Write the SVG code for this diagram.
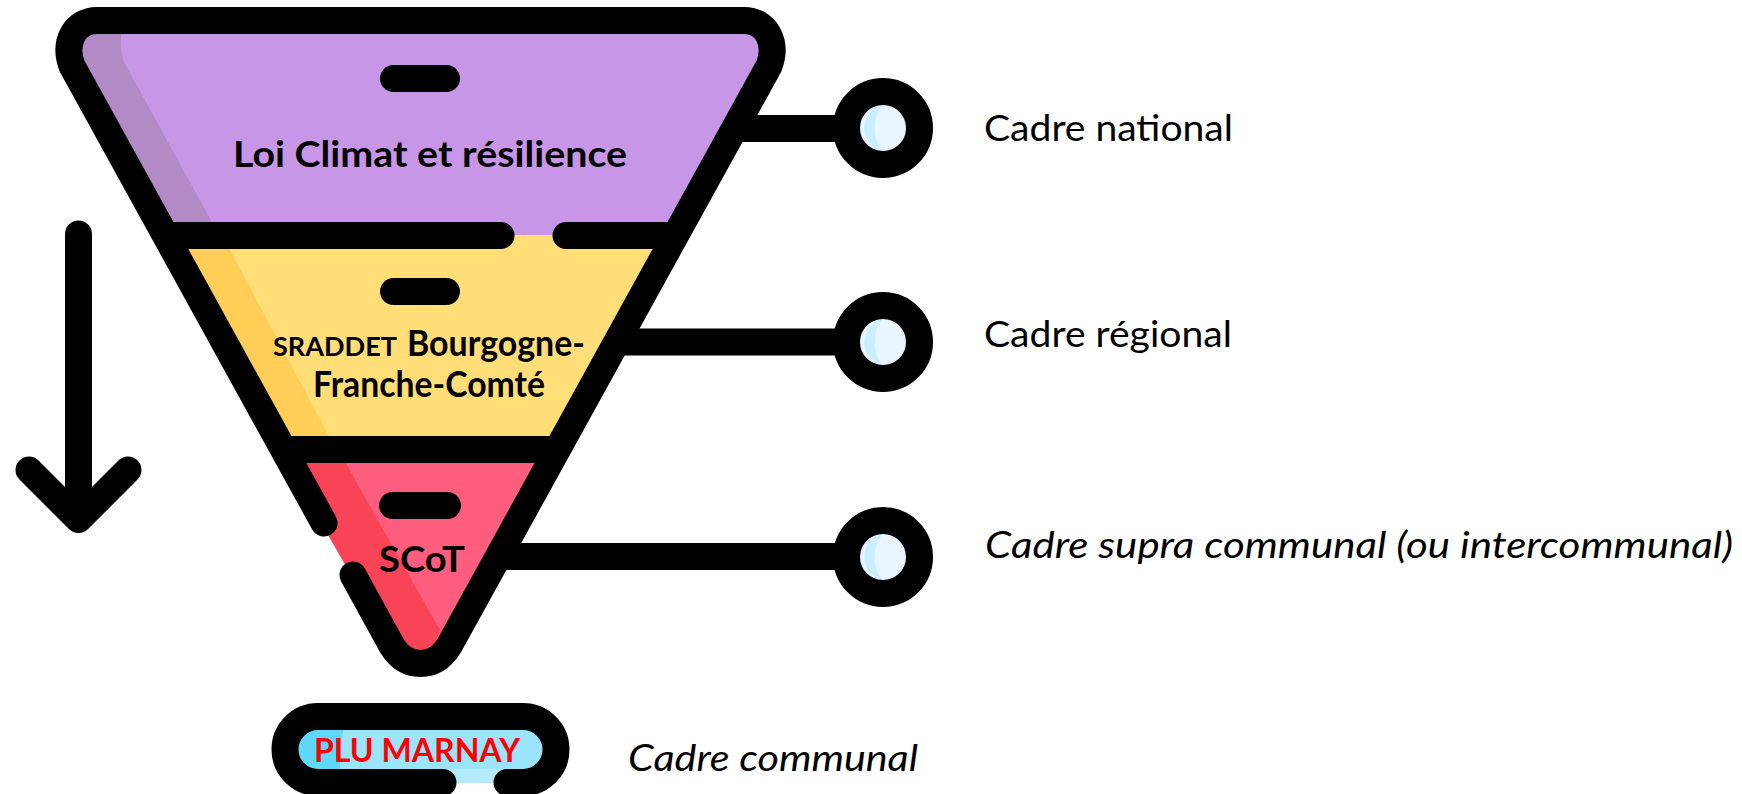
<svg xmlns="http://www.w3.org/2000/svg" width="1742" height="794" viewBox="0 0 1742 794">
<style>
.k{fill:none;stroke:#000;stroke-width:27;stroke-linecap:round;stroke-linejoin:round}
.b{font-family:Lato,"Liberation Sans",sans-serif;font-weight:700;fill:#000}
.l{font-family:Lato,"Liberation Sans",sans-serif;font-size:36px;fill:#000}
.i{font-style:italic}
.d{fill:#000}
</style>
<rect width="1742" height="794" fill="#fff"/>
<g id="funnel-purple">
<path d="M72 66C63 42 75 20.500 97 20.500H744C766 20.500 778 42 769 66L683 235H157.600Z" fill="#c896e6"/>
<path d="M72 66C63 42 75 20.500 97 20.500H135C120 20.500 118 42 124 62L219 235H157.600Z" fill="#b28ac6"/>
<rect x="380" y="65" width="80" height="27" rx="13.500" class="d"/>
<text x="233" y="167" class="b" font-size="37" textLength="394" lengthAdjust="spacingAndGlyphs">Loi Climat et résilience</text>
</g>
<g id="funnel-yellow">
<path d="M157.600 235H683L561 449.500H279Z" fill="#ffde77"/>
<path d="M157.600 235H222L336 449.500H279Z" fill="#ffce56"/>
<rect x="380" y="278" width="80" height="27" rx="13.500" class="d"/>
<text y="356" class="b" font-size="36"><tspan x="273" font-size="26" textLength="124" lengthAdjust="spacingAndGlyphs">SRADDET</tspan> <tspan x="407" textLength="178" lengthAdjust="spacingAndGlyphs">Bourgogne-</tspan></text>
<text x="313" y="397" class="b" font-size="36" textLength="232" lengthAdjust="spacingAndGlyphs">Franche-Comté</text>
</g>
<g id="funnel-red">
<path d="M279 449.500H561L449 646C441 659 431 663.500 420.500 663.500C410 663.500 400 659 392 646Z" fill="#ff5d7d"/>
<path d="M279 449.500H338L440 630L428 663.500H420.500C410 663.500 400 659 392 646Z" fill="#f94458"/>
<rect x="379" y="492" width="82" height="27" rx="13.500" class="d"/>
<text x="379" y="572" class="b" font-size="36" textLength="86" lengthAdjust="spacingAndGlyphs">SCoT</text>
</g>
<g id="funnel-outline">
<path class="k" d="M324 523L72 66C63 42 75 20.500 97 20.500H744C766 20.500 778 42 769 66L449 646C441 659 431 663.500 420.500 663.500C410 663.500 400 659 392 646L353 575"/>
<path class="k" d="M173 235.500H501M566 235.500H668M290 449.500H551"/>
</g>
<g id="capsule">
<rect x="285" y="716.500" width="271" height="66" rx="33" fill="#9be5fc"/>
<rect x="430" y="769" width="90" height="14" fill="#b5e9fc"/>
<path d="M318 716.500H347C340 740 338 760 342 782.500H318C300 782.500 285 768 285 749.500C285 731 300 716.500 318 716.500Z" fill="#5fd8fb"/>
<path class="k" d="M443 782.500H318C300 782.500 285 768 285 749.500C285 731 300 716.500 318 716.500H523C541 716.500 556 731 556 749.500C556 768 541 782.500 523 782.500H507"/>
<text x="314" y="762" class="b" font-size="32" textLength="206" lengthAdjust="spacingAndGlyphs" style="fill:#f00">PLU MARNAY</text>
</g>
<g id="connectors">
<path class="k" style="stroke-linecap:butt" d="M735 128.500H860M617 342H860M498 556.500H860"/>
</g>
<g id="arrow">
<path class="k" d="M78.500 234V519M29 470L78.500 519.500L128 470"/>
</g>
<g id="bullet-1">
<circle cx="883" cy="128" r="23.500" fill="#e8f5ff"/>
<path d="M883 105A23.500 23.500 0 0 0 883 151C872 141 872 115 883 105Z" fill="#c9eefe"/>
<circle cx="883" cy="128" r="36.500" fill="none" stroke="#000" stroke-width="27"/>
</g>
<g id="bullet-2">
<circle cx="883" cy="342" r="23.500" fill="#e8f5ff"/>
<path d="M883 319A23.500 23.500 0 0 0 883 365C872 355 872 329 883 319Z" fill="#c9eefe"/>
<circle cx="883" cy="342" r="36.500" fill="none" stroke="#000" stroke-width="27"/>
</g>
<g id="bullet-3">
<circle cx="883" cy="557" r="23.500" fill="#e8f5ff"/>
<path d="M883 534A23.500 23.500 0 0 0 883 580C872 570 872 544 883 534Z" fill="#c9eefe"/>
<circle cx="883" cy="557" r="36.500" fill="none" stroke="#000" stroke-width="27"/>
</g>
<g id="labels">
<text x="984" y="141" class="l" textLength="249" lengthAdjust="spacingAndGlyphs">Cadre national</text>
<text x="984" y="347" class="l" textLength="248" lengthAdjust="spacingAndGlyphs">Cadre régional</text>
<text x="985" y="558" class="l i" textLength="748" lengthAdjust="spacingAndGlyphs">Cadre supra communal (ou intercommunal)</text>
<text x="628" y="771" class="l i" textLength="290" lengthAdjust="spacingAndGlyphs">Cadre communal</text>
</g>
</svg>
